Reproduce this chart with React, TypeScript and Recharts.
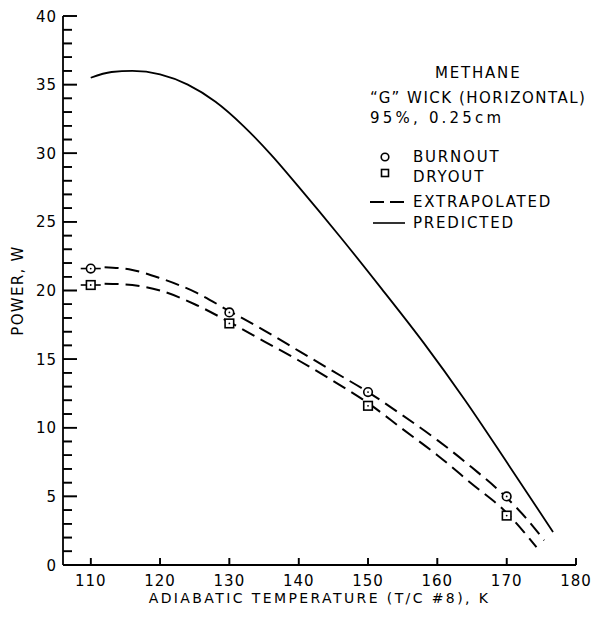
import React from 'react';
import { ComposedChart, Line, Scatter, XAxis, YAxis, Legend, CartesianGrid } from 'recharts';

const FONT = '"DejaVu Sans", "Liberation Sans", sans-serif';

// Predicted curve (solid)
const predictedT = [110, 113, 116, 120, 124, 128, 132, 136, 140, 146, 152, 158, 164, 170, 176.7];
const predictedP = [35.5, 35.92, 36.0, 35.75, 35.0, 33.75, 32.0, 29.9, 27.55, 23.9, 20.1, 16.2, 12.0, 7.5, 2.4];

// Extrapolated curves (dashed)
const burnoutFitT = [112, 116, 120, 125, 130, 135, 140, 145, 150, 155, 160, 165, 170, 173, 175.4];
const burnoutFitP = [21.7, 21.5, 20.9, 19.9, 18.5, 17.1, 15.6, 14.1, 12.6, 10.9, 9.1, 7.1, 4.9, 3.3, 1.8];
const dryoutFitT = [112, 116, 120, 125, 130, 135, 140, 145, 150, 155, 160, 165, 170, 172.5, 174.3];
const dryoutFitP = [20.5, 20.4, 20.0, 19.0, 17.7, 16.3, 14.9, 13.4, 11.8, 9.9, 8.0, 5.9, 3.8, 2.4, 1.3];

// Measured points
const burnoutT = [110, 130, 150, 170];
const burnoutP = [21.6, 18.4, 12.6, 5.0];
const dryoutT = [110, 130, 150, 170];
const dryoutP = [20.4, 17.6, 11.6, 3.6];

const xDomain = [106, 180];
const yDomain = [0, 40];
const xTicks = [110, 120, 130, 140, 150, 160, 170, 180];
const yAllTicks = Array.from({ length: 41 }, (_, i) => i);

const zip = (ts: number[], ps: number[]) => ts.map((t, i) => ({ t, p: ps[i] }));

const predictedData = zip(predictedT, predictedP);
const burnoutFitData = zip(burnoutFitT, burnoutFitP);
const dryoutFitData = zip(dryoutFitT, dryoutFitP);
const burnoutData = zip(burnoutT, burnoutP);
const dryoutData = zip(dryoutT, dryoutP);

const MINOR = 9;
const MAJOR = 14;
const XLEN = 7;

// y tick: inward tick line (tickSize -9) drawn by the axis, label + major extension drawn here
const YTick = (props: any) => {
  const { x, y, payload } = props;
  const major = payload.value % 5 === 0;
  const axisX = x - MINOR;
  return (
    <g>
      {major && <line x1={x} x2={axisX + MAJOR} y1={y} y2={y} stroke="#000" strokeWidth={1.6} />}
      {major && (
        <text x={axisX - 6} y={y} dy={5.5} textAnchor="end" fontSize={15} fontFamily={FONT} letterSpacing={1} fill="#000">
          {payload.value}
        </text>
      )}
    </g>
  );
};

const XTick = (props: any) => {
  const { x, y, payload } = props;
  const axisY = y + XLEN;
  return (
    <text x={x} y={axisY + 21} textAnchor="middle" fontSize={15} fontFamily={FONT} letterSpacing={1} fill="#000">
      {payload.value}
    </text>
  );
};

// the same inward ticks, also drawn through the grid (short segments from the axes)
const GridH = (props: any) => {
  const { x1, y1, index } = props;
  const v = yAllTicks[index];
  const len = v % 5 === 0 ? MAJOR : MINOR;
  return <line x1={x1} x2={x1 + len} y1={y1} y2={y1} stroke="#000" strokeWidth={1.6} />;
};

const GridV = (props: any) => {
  const { x1, y1, y2 } = props;
  const bottom = Math.max(y1, y2);
  return <line x1={x1} x2={x1} y1={bottom} y2={bottom - XLEN} stroke="#000" strokeWidth={1.6} />;
};

const renderCircle = (props: any) => {
  const { cx, cy, payload } = props;
  const first = payload && payload.t === burnoutT[0];
  return (
    <g>
      {first && <path d={`M${cx - 10},${cy}H${cx + 10}`} stroke="#000" strokeWidth={1.6} fill="none" />}
      <circle cx={cx} cy={cy} r={4.3} fill="#fff" stroke="#000" strokeWidth={1.6} />
      <circle cx={cx} cy={cy} r={0.9} fill="#000" />
    </g>
  );
};

const renderSquare = (props: any) => {
  const { cx, cy, payload } = props;
  const first = payload && payload.t === dryoutT[0];
  return (
    <g>
      {first && <path d={`M${cx - 10},${cy}H${cx + 10}`} stroke="#000" strokeWidth={1.6} fill="none" />}
      <rect x={cx - 4.3} y={cy - 4.3} width={8.6} height={8.6} fill="#fff" stroke="#000" strokeWidth={1.6} />
      <circle cx={cx} cy={cy} r={0.9} fill="#000" />
    </g>
  );
};

const textStyle = { fontFamily: FONT, fontSize: 15, letterSpacing: 1.8, fill: '#000' } as any;

const renderLegend = () => (
  <svg width={226} height={180} style={{ display: 'block' }}>
    <text x={70} y={18} {...textStyle}>METHANE</text>
    <text x={5} y={43} {...textStyle} letterSpacing={1.5}>“G” WICK (HORIZONTAL)</text>
    <text x={5} y={63} {...textStyle} letterSpacing={3.2}>95%, 0.25cm</text>
    <circle cx={20} cy={97} r={3.8} fill="#fff" stroke="#000" strokeWidth={1.6} />
    <text x={48} y={102} {...textStyle}>BURNOUT</text>
    <rect x={16.5} y={109.5} width={7} height={7} fill="#fff" stroke="#000" strokeWidth={1.6} />
    <text x={48} y={122} {...textStyle}>DRYOUT</text>
    <line x1={5} x2={40} y1={142} y2={142} stroke="#000" strokeWidth={2} strokeDasharray="14 6" />
    <text x={48} y={147} {...textStyle}>EXTRAPOLATED</text>
    <line x1={8} x2={40} y1={163} y2={163} stroke="#000" strokeWidth={1.6} />
    <text x={48} y={168} {...textStyle}>PREDICTED</text>
  </svg>
);

const XLabel = (props: any) => {
  const vb = props.viewBox || { x: 63, y: 565, width: 513, height: 30 };
  return (
    <text x={vb.x + vb.width / 2} y={vb.y + 38} textAnchor="middle" fontSize={14} fontFamily={FONT} letterSpacing={2.4} fill="#000">
      ADIABATIC TEMPERATURE (T/C #8), K
    </text>
  );
};

const YLabel = (props: any) => {
  const vb = props.viewBox || { x: 23, y: 16, width: 40, height: 549 };
  const cx = 18;
  const cy = vb.y + vb.height / 2;
  return (
    <text x={cx} y={cy} transform={`rotate(-90 ${cx} ${cy})`} dy={5} textAnchor="middle" fontSize={15} fontFamily={FONT} letterSpacing={1.3} fill="#000">
      POWER, W
    </text>
  );
};

export default function App() {
  return (
    <div style={{ position: 'absolute', left: 0, top: 0, width: 591, height: 618, background: '#fff' }}>
      <ComposedChart width={591} height={618} margin={{ top: 16, right: 15, bottom: 23, left: 23 }}>
        <CartesianGrid
          horizontal={<GridH />}
          vertical={<GridV />}
          horizontalValues={yAllTicks}
          verticalValues={xTicks}
          fill="none"
          stroke="#000"
        />
        <XAxis
          type="number"
          dataKey="t"
          domain={xDomain}
          ticks={xTicks}
          interval={0}
          height={30}
          tickSize={-XLEN}
          tickMargin={0}
          tick={<XTick />}
          axisLine={{ stroke: '#000', strokeWidth: 1.8 }}
          tickLine={{ stroke: '#000', strokeWidth: 1.6 }}
          label={<XLabel />}
        />
        <YAxis
          type="number"
          dataKey="p"
          domain={yDomain}
          ticks={yAllTicks}
          interval={0}
          width={40}
          tickSize={-MINOR}
          tickMargin={0}
          tick={<YTick />}
          axisLine={{ stroke: '#000', strokeWidth: 1.8 }}
          tickLine={{ stroke: '#000', strokeWidth: 1.6 }}
          label={<YLabel />}
        />
        <Legend
          layout="horizontal"
          verticalAlign="middle"
          align="center"
          content={renderLegend}
          wrapperStyle={{ left: 365, top: 60, width: 226, height: 180 }}
        />
        <Line data={predictedData} dataKey="p" type="monotone" stroke="#000" strokeWidth={1.8} dot={false} isAnimationActive={false} legendType="none" />
        <Line data={burnoutFitData} dataKey="p" type="monotone" stroke="#000" strokeWidth={2} strokeDasharray="14 7" dot={false} isAnimationActive={false} legendType="none" />
        <Line data={dryoutFitData} dataKey="p" type="monotone" stroke="#000" strokeWidth={2} strokeDasharray="14 7" dot={false} isAnimationActive={false} legendType="none" />
        <Scatter data={burnoutData} dataKey="p" shape={renderCircle} isAnimationActive={false} legendType="none" />
        <Scatter data={dryoutData} dataKey="p" shape={renderSquare} isAnimationActive={false} legendType="none" />
      </ComposedChart>
    </div>
  );
}
